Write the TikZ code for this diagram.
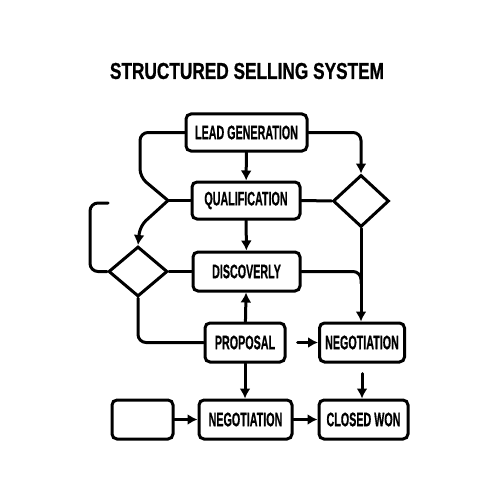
\documentclass[tikz,border=0pt]{standalone}
\usepackage{fontspec}
\setmainfont{Liberation Sans}
\newfontfamily\boldish{Liberation Sans}[FakeBold=1.0]
\newcommand\bx[1]{\scalebox{0.55}[1]{#1}}
\newcommand\ttl[1]{\scalebox{0.75}[1]{#1}}
\usetikzlibrary{shapes.geometric,arrows.meta,calc}
\begin{document}
\begin{tikzpicture}[x=1pt,y=-1pt,
  conn/.style={line width=3pt,line cap=round,line join=round,rounded corners=8pt},
  arr/.style={conn,-{Latex[length=10pt,width=11pt]}},
  box/.style={draw,line width=3pt,rounded corners=5pt,inner sep=0pt,
    font=\boldish\bfseries\fontsize{19.5}{19.5}\selectfont},
  dia/.style={draw,line width=3pt,diamond,inner sep=0pt}]
\useasboundingbox (0,0) rectangle (500,500);
\node[font=\boldish\bfseries\fontsize{23}{23}\selectfont] (title) at (247,71) {\ttl{STRUCTURED SELLING SYSTEM}};
\node[box,minimum width=121pt,minimum height=37pt] (lead) at (246.5,132.5) {\bx{LEAD GENERATION}};
\node[box,minimum width=108pt,minimum height=37pt] (qual) at (246,200.5) {\bx{QUALIFICATION}};
\node[dia,minimum width=56pt,minimum height=52pt] (dmR) at (361,201) {};
\node[dia,minimum width=59pt,minimum height=50pt] (dmL) at (138,271.5) {};
\node[box,minimum width=107pt,minimum height=39pt] (disc) at (246.5,271.5) {\bx{DISCOVERLY}};
\node[box,minimum width=80pt,minimum height=39pt] (prop) at (245,342.5) {\bx{PROPOSAL}};
\node[box,minimum width=85pt,minimum height=39pt] (negR) at (362,342.5) {\bx{NEGOTIATION}};
\node[box,minimum width=61pt,minimum height=39pt] (blank) at (142.5,419.5) {};
\node[box,minimum width=93pt,minimum height=39pt] (negB) at (245.5,419.5) {\bx{NEGOTIATION}};
\node[box,minimum width=89pt,minimum height=39pt] (won) at (363.5,419.5) {\bx{CLOSED WON}};
% junctions and free ends
\coordinate (j1) at (168,200.5);
\coordinate (bt) at (108,203);
\coordinate (pa) at ($(prop.east)+(11,0)$);
\coordinate (na) at ($(negR.south)+(0,10)$);
% connectors
\draw[arr] (lead) -- (qual);
\draw[arr] (lead.east) -| (dmR.north);
\draw[conn] (lead.west) -- (140,132.5) -- (140,177) -- (j1);
\draw[conn] (qual.west) -- (j1);
\draw[arr] (j1) -- (140,226) -- (dmL.north);
\draw[conn] (qual.east) -- (dmR.west);
\draw[conn] (bt) -- (90,203) -- (90,271.5) -- (dmL.west);
\draw[conn] (dmL.east) -- (disc.west);
\draw[arr] (qual) -- (disc);
\draw[arr] (dmR.south) -- (dmR.south |- negR.north);
\draw[conn] (disc.east) -| ($(dmR.south |- disc.east)+(0,12)$);
\draw[conn] (dmL.south) |- (prop.west);
\draw[arr] (prop) -- (disc);
\draw[arr] (pa) -- (negR.west);
\draw[arr] (prop.south) -- (prop.south |- negB.north);
\draw[arr] (na) -- (na |- won.north);
\draw[arr] (blank) -- (negB);
\draw[arr] (negB) -- (won);
\end{tikzpicture}
\end{document}
